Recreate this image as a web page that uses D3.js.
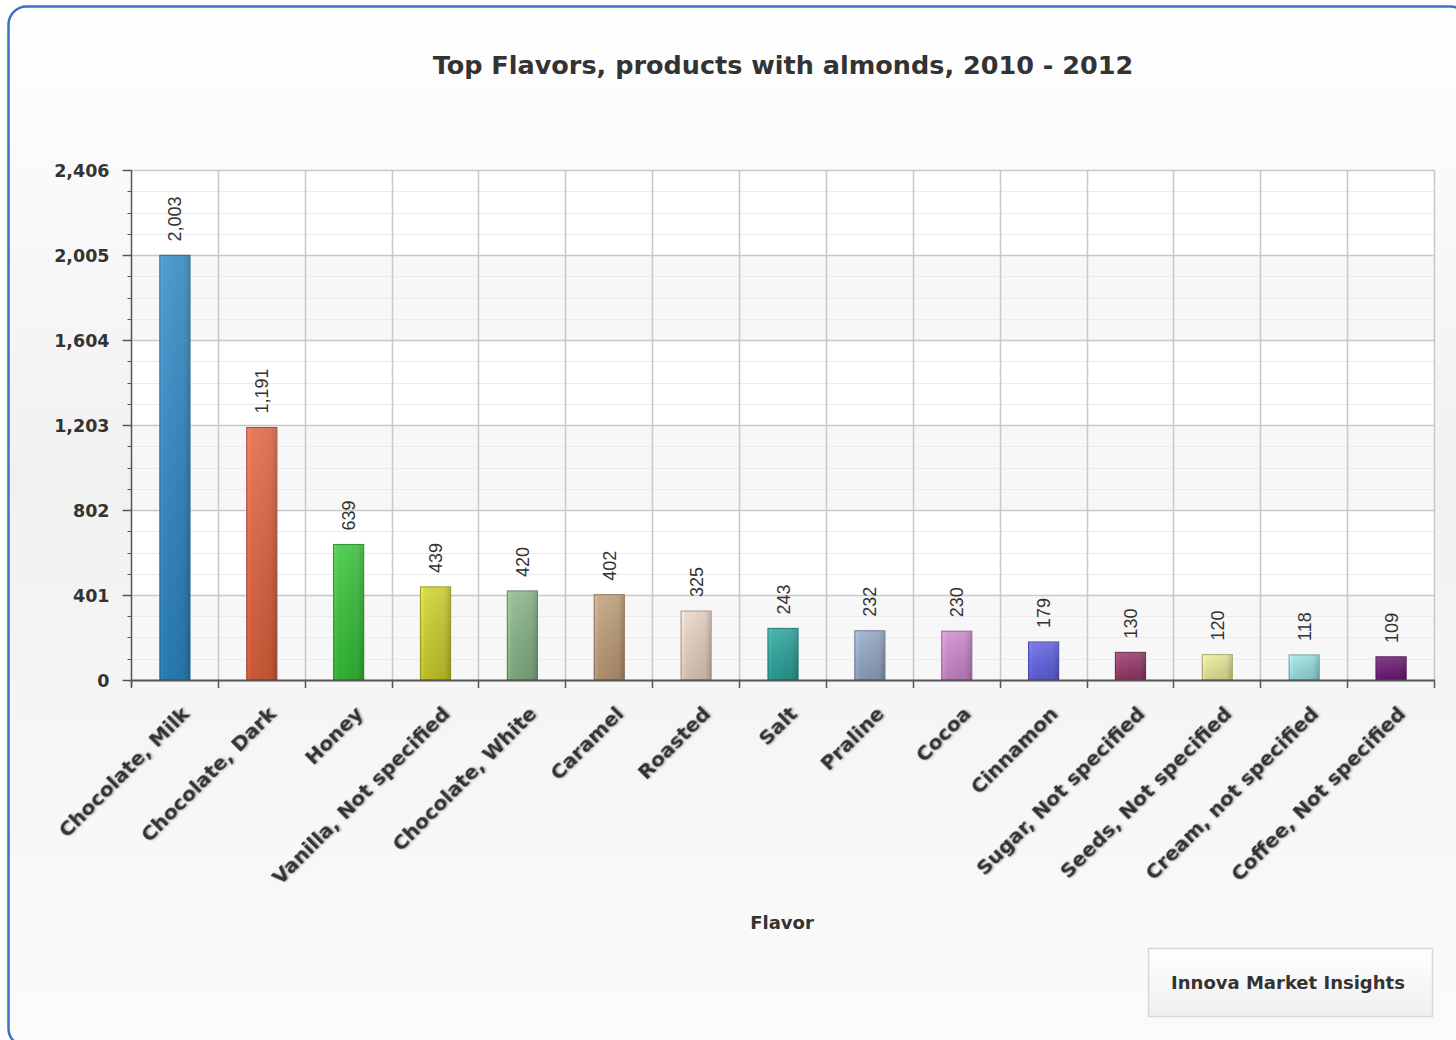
<!DOCTYPE html>
<html>
<head>
<meta charset="utf-8">
<script src="https://cdn.jsdelivr.net/npm/d3@7"></script>
<style>
  body { margin: 0; background: #fff; }
  svg { display: block; }
</style>
</head>
<body>
<script>
// chart data
const flavors = ["Chocolate, Milk", "Chocolate, Dark", "Honey", "Vanilla, Not specified",
  "Chocolate, White", "Caramel", "Roasted", "Salt", "Praline", "Cocoa", "Cinnamon",
  "Sugar, Not specified", "Seeds, Not specified", "Cream, not specified", "Coffee, Not specified"]
const counts = [2003, 1191, 639, 439, 420, 402, 325, 243, 232, 230, 179, 130, 120, 118, 109]
const barColors = ["#2f8bc8", "#e4653f", "#38c63a", "#d2d22e", "#8ab88a", "#c2a07a", "#ecd6c4",
  "#2ba89e", "#97abc9", "#d18cd2", "#6464e8", "#9a3a6a", "#eeee9e", "#9ce6e6", "#701a78"]
const yTicks = [0, 401, 802, 1203, 1604, 2005, 2406]

const w = 1456, h = 1040
const plotL = 131, plotR = 1434, plotT = 170, plotB = 680

let svg = d3.select("body").append("svg")
  .attr("width", w).attr("height", h)
  .style("font-family", "'DejaVu Sans', Verdana, sans-serif")

let defs = svg.append("defs")

let bg = defs.append("linearGradient").attr("id", "bg")
  .attr("x1", 0).attr("x2", 0).attr("y1", 0).attr("y2", 1)
bg.append("stop").attr("offset", "0").attr("stop-color", "#ffffff")
bg.append("stop").attr("offset", "0.45").attr("stop-color", "#f1f1f1")
bg.append("stop").attr("offset", "1").attr("stop-color", "#fbfbfb")

let shadow = defs.append("filter").attr("id", "shadow")
  .attr("x", "-10%").attr("y", "-10%").attr("width", "120%").attr("height", "130%")
shadow.append("feDropShadow").attr("dx", 1).attr("dy", 1).attr("stdDeviation", 0.8)
  .attr("flood-color", "#000").attr("flood-opacity", 0.35)

// card
svg.append("rect")
  .attr("x", 8.5).attr("y", 6.5).attr("width", 1460).attr("height", 1040)
  .attr("rx", 18).attr("ry", 18)
  .attr("fill", "url(#bg)")
  .attr("stroke", "#3b72c2").attr("stroke-width", 2.5)

svg.append("text")
  .attr("x", 783).attr("y", 74)
  .attr("text-anchor", "middle")
  .attr("font-size", 25.5).attr("font-weight", "bold")
  .attr("fill", "#333")
  .text("Top Flavors, products with almonds, 2010 - 2012")

let x = d3.scaleBand().domain(flavors).range([plotL, plotR]).paddingInner(0).paddingOuter(0)
let y = d3.scaleLinear().domain([0, 2406]).range([plotB, plotT])

// plot bands
let g = svg.append("g")
for (let i = 0; i < yTicks.length - 1; i++) {
  g.append("rect")
    .attr("x", plotL).attr("width", plotR - plotL)
    .attr("y", y(yTicks[i + 1])).attr("height", y(yTicks[i]) - y(yTicks[i + 1]))
    .attr("fill", i % 2 === 0 ? "#f7f7f7" : "#ffffff")
}

// minor grid
let minor = []
for (let i = 0; i < yTicks.length - 1; i++) {
  for (let k = 1; k < 4; k++) minor.push(yTicks[i] + (yTicks[i + 1] - yTicks[i]) * k / 4)
}
g.selectAll(".minor").data(minor).enter().append("line")
  .attr("x1", plotL).attr("x2", plotR)
  .attr("y1", d => Math.round(y(d)) + 0.5).attr("y2", d => Math.round(y(d)) + 0.5)
  .attr("stroke", "#ebebeb")
g.selectAll(".major").data(yTicks.slice(1)).enter().append("line")
  .attr("x1", plotL).attr("x2", plotR)
  .attr("y1", d => Math.round(y(d)) + 0.5).attr("y2", d => Math.round(y(d)) + 0.5)
  .attr("stroke", "#c8c8c8").attr("stroke-width", 1.5)

// vertical grid
let bounds = flavors.map(f => x(f)).concat([plotR])
g.selectAll(".vgrid").data(bounds.slice(1)).enter().append("line")
  .attr("x1", d => Math.round(d) + 0.5).attr("x2", d => Math.round(d) + 0.5)
  .attr("y1", plotT).attr("y2", plotB)
  .attr("stroke", "#c8c8c8").attr("stroke-width", 1.5)

// bar gradients
barColors.forEach((c, i) => {
  let lg = defs.append("linearGradient").attr("id", "bar" + i)
    .attr("x1", 0).attr("x2", 1).attr("y1", 0).attr("y2", 0)
  lg.append("stop").attr("offset", "0").attr("stop-color", d3.color(c).brighter(0.35))
  lg.append("stop").attr("offset", "0.15").attr("stop-color", c)
  lg.append("stop").attr("offset", "0.8").attr("stop-color", d3.color(c).darker(0.2))
  lg.append("stop").attr("offset", "1").attr("stop-color", d3.color(c).darker(0.7))
  let vg = defs.append("linearGradient").attr("id", "shade" + i)
    .attr("x1", 0).attr("x2", 0).attr("y1", 0).attr("y2", 1)
  vg.append("stop").attr("offset", "0").attr("stop-color", "#fff").attr("stop-opacity", 0.15)
  vg.append("stop").attr("offset", "1").attr("stop-color", "#000").attr("stop-opacity", 0.12)
})

let barW = 30
let bars = svg.append("g").selectAll("g").data(flavors).enter().append("g")
bars.append("rect")
  .attr("x", d => x(d) + x.bandwidth() / 2 - barW / 2 + 0.5)
  .attr("y", (d, i) => y(counts[i]))
  .attr("width", barW)
  .attr("height", (d, i) => plotB - y(counts[i]))
  .attr("fill", (d, i) => "url(#bar" + i + ")")
  .attr("stroke", (d, i) => d3.color(barColors[i]).darker(0.9))
  .attr("stroke-width", 1.2)
bars.append("rect")
  .attr("x", d => x(d) + x.bandwidth() / 2 - barW / 2 + 0.5)
  .attr("y", (d, i) => y(counts[i]))
  .attr("width", barW)
  .attr("height", (d, i) => plotB - y(counts[i]))
  .attr("fill", (d, i) => "url(#shade" + i + ")")

// value labels
bars.append("text")
  .attr("transform", (d, i) => "translate(" + (x(d) + x.bandwidth() / 2 + 7) + "," + (y(counts[i]) - 14) + ") rotate(-90)")
  .attr("font-family", "'Liberation Sans', Arial, sans-serif")
  .attr("font-size", 18)
  .attr("fill", "#333")
  .text((d, i) => d3.format(",")(counts[i]))

// y axis
let yAxis = svg.append("g").attr("transform", "translate(" + (plotL + 0.5) + ",0)")
yAxis.append("line").attr("y1", plotT).attr("y2", plotB + 6).attr("stroke", "#555").attr("stroke-width", 1.5)
yAxis.selectAll(".ymin").data(minor).enter().append("line")
  .attr("x1", -4).attr("x2", 0)
  .attr("y1", d => Math.round(y(d)) + 0.5).attr("y2", d => Math.round(y(d)) + 0.5)
  .attr("stroke", "#555")
yAxis.selectAll(".ymaj").data(yTicks).enter().append("line")
  .attr("x1", -9).attr("x2", 0)
  .attr("y1", d => Math.round(y(d)) + 0.5).attr("y2", d => Math.round(y(d)) + 0.5)
  .attr("stroke", "#555").attr("stroke-width", 1.5)
yAxis.selectAll("text").data(yTicks).enter().append("text")
  .attr("x", -22).attr("y", d => y(d) + 6.5)
  .attr("text-anchor", "end")
  .attr("font-size", 17.5).attr("font-weight", "bold")
  .attr("fill", "#333")
  .text(d => d3.format(",")(d))

// x axis
let xAxis = svg.append("g")
xAxis.append("line").attr("x1", plotL).attr("x2", plotR + 1)
  .attr("y1", plotB + 0.5).attr("y2", plotB + 0.5)
  .attr("stroke", "#555").attr("stroke-width", 2)
xAxis.selectAll(".xt").data(bounds).enter().append("line")
  .attr("x1", d => Math.round(d) + 0.5).attr("x2", d => Math.round(d) + 0.5)
  .attr("y1", plotB).attr("y2", plotB + 8)
  .attr("stroke", "#555").attr("stroke-width", 1.5)
xAxis.selectAll("text").data(flavors).enter().append("text")
  .attr("transform", d => "translate(" + (x(d) + x.bandwidth() / 2 + 16) + "," + (plotB + 35) + ") rotate(-45)")
  .attr("text-anchor", "end")
  .attr("font-size", 20.2).attr("font-weight", "bold")
  .attr("fill", "#333")
  .attr("filter", "url(#shadow)")
  .text(d => d)

svg.append("text")
  .attr("x", 782).attr("y", 929)
  .attr("text-anchor", "middle")
  .attr("font-size", 18).attr("font-weight", "bold")
  .attr("fill", "#333")
  .text("Flavor")

// credits box
let lgBox = defs.append("linearGradient").attr("id", "box")
  .attr("x1", 0).attr("x2", 0).attr("y1", 0).attr("y2", 1)
lgBox.append("stop").attr("offset", "0").attr("stop-color", "#ffffff")
lgBox.append("stop").attr("offset", "1").attr("stop-color", "#efefef")
svg.append("rect")
  .attr("x", 1148.5).attr("y", 948.5).attr("width", 284).attr("height", 68)
  .attr("fill", "url(#box)").attr("stroke", "#d8d8d8").attr("stroke-width", 1.5)
svg.append("text")
  .attr("x", 1288).attr("y", 989)
  .attr("text-anchor", "middle")
  .attr("font-size", 18).attr("font-weight", "bold")
  .attr("fill", "#333")
  .text("Innova Market Insights")
</script>
</body>
</html>
